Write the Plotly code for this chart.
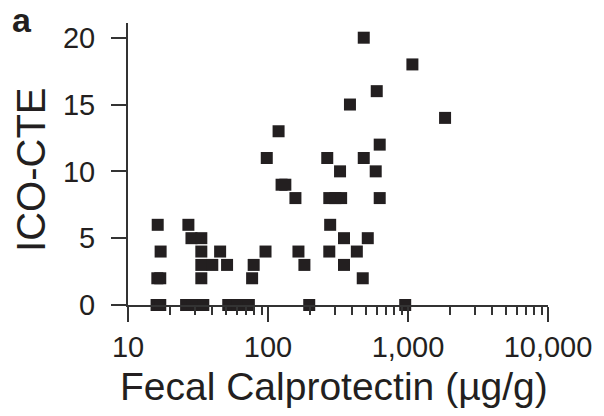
import plotly.graph_objects as go

# Fecal calprotectin (ug/g) vs ICO-CTE score
calprotectin = [
    483, 1075, 598, 385, 1840, 119, 628, 98, 265, 483,
    327, 588, 125, 133, 157, 274, 303, 333, 628,
    16.3, 27, 278, 28.4, 33.4, 349, 516,
    17.1, 33.4, 45.5, 96, 165, 274, 431,
    33.4, 40, 51, 79, 182, 349,
    16.2, 17.0, 33.4, 77, 475,
    16.0, 17.0, 26, 29, 34.5, 52, 61, 73, 197, 955,
]
ico_cte = [
    20, 18, 16, 15, 14, 13, 12, 11, 11, 11,
    10, 10, 9, 9, 8, 8, 8, 8, 8,
    6, 6, 6, 5, 5, 5, 5,
    4, 4, 4, 4, 4, 4, 4,
    3, 3, 3, 3, 3, 3,
    2, 2, 2, 2, 2,
    0, 0, 0, 0, 0, 0, 0, 0, 0, 0,
]

x_tickvals = [10, 100, 1000, 10000]
x_ticktext = ["10", "100", "1,000", "10,000"]
y_tickvals = [0, 5, 10, 15, 20]

x_title = "Fecal Calprotectin (µg/g)"
y_title = "ICO-CTE"
panel_label = "a"

W, H = 604, 416
L, R, T, B = 128, 52, 23, 111
pw, ph = W - L - R, H - T - B

ink = "#231f20"
font = "Liberation Sans, Arial, sans-serif"

fig = go.Figure(
    go.Scatter(
        x=calprotectin,
        y=ico_cte,
        mode="markers",
        marker=dict(symbol="square", size=12, color=ink, line=dict(width=0)),
        cliponaxis=False,
        hoverinfo="x+y",
    )
)

fig.update_layout(
    width=W,
    height=H,
    margin=dict(l=L, r=R, t=T, b=B, pad=0),
    paper_bgcolor="white",
    plot_bgcolor="white",
    showlegend=False,
    font=dict(family=font, color=ink),
)

fig.update_xaxes(
    type="log",
    range=[1, 4],
    tickvals=x_tickvals,
    ticktext=x_ticktext,
    showline=True,
    linecolor="#333333",
    linewidth=2,
    ticks="outside",
    ticklen=15,
    tickwidth=2,
    tickcolor="#333333",
    showgrid=False,
    zeroline=False,
    tickfont=dict(size=29, family=font, color=ink),
    ticklabelstandoff=0,
    minor=dict(ticks="outside", ticklen=8, tickwidth=1.5, tickcolor="#333333", dtick="D1", showgrid=False),
)

fig.update_yaxes(
    range=[0, 21.1],
    tickvals=y_tickvals,
    showline=True,
    linecolor="#333333",
    linewidth=2,
    ticks="outside",
    ticklen=15,
    tickwidth=2,
    tickcolor="#333333",
    showgrid=False,
    zeroline=False,
    tickfont=dict(size=29, family=font, color=ink),
    ticklabelstandoff=10,
)

# axis titles and panel label as annotations positioned in paper coordinates
fig.add_annotation(
    text=x_title,
    xref="paper", yref="paper",
    x=(336 - L) / pw, y=(H - B - 386) / ph,
    xanchor="center", yanchor="middle",
    showarrow=False,
    font=dict(size=39, family=font, color=ink),
)
fig.add_annotation(
    text=y_title,
    xref="paper", yref="paper",
    x=(30 - L) / pw, y=(H - B - 170) / ph,
    xanchor="center", yanchor="middle",
    textangle=-90,
    showarrow=False,
    font=dict(size=40, family=font, color=ink),
)
fig.add_annotation(
    text=panel_label,
    xref="paper", yref="paper",
    x=(21 - L) / pw, y=(H - B - 20) / ph,
    xanchor="center", yanchor="middle",
    showarrow=False,
    font=dict(size=34, family="Liberation Sans", weight="bold", color=ink),
)

fig.write_html("out.html")
